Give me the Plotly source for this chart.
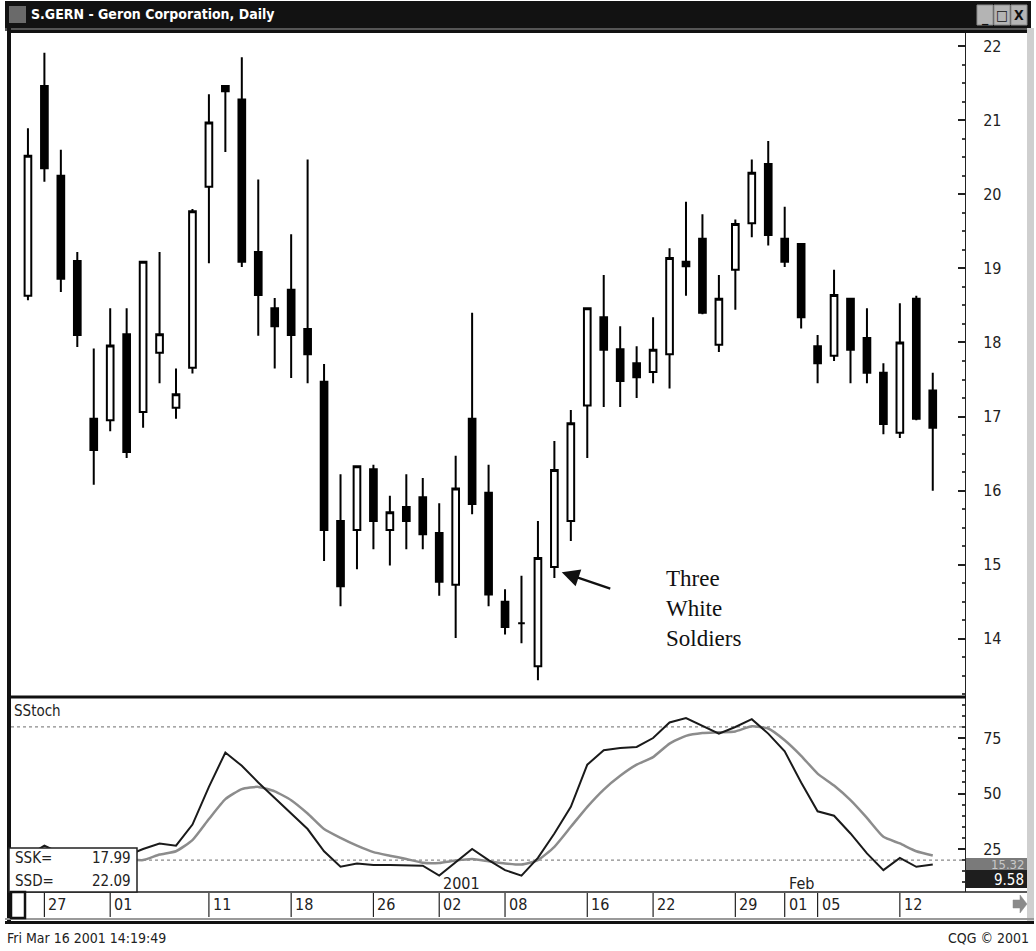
import plotly.graph_objects as go

W, H = 1036, 951
def PX(px):
    return px / W
def PY(py):
    return 1 - py / H

# ---------------- data ----------------
dates = [
    "2000-11-24", "2000-11-27", "2000-11-28", "2000-11-29", "2000-11-30",
    "2000-12-01", "2000-12-04", "2000-12-05", "2000-12-06", "2000-12-07", "2000-12-08",
    "2000-12-11", "2000-12-12", "2000-12-13", "2000-12-14", "2000-12-15",
    "2000-12-18", "2000-12-19", "2000-12-20", "2000-12-21", "2000-12-22",
    "2000-12-26", "2000-12-27", "2000-12-28", "2000-12-29",
    "2001-01-02", "2001-01-03", "2001-01-04", "2001-01-05",
    "2001-01-08", "2001-01-09", "2001-01-10", "2001-01-11", "2001-01-12",
    "2001-01-16", "2001-01-17", "2001-01-18", "2001-01-19",
    "2001-01-22", "2001-01-23", "2001-01-24", "2001-01-25", "2001-01-26",
    "2001-01-29", "2001-01-30", "2001-01-31", "2001-02-01", "2001-02-02",
    "2001-02-05", "2001-02-06", "2001-02-07", "2001-02-08", "2001-02-09",
    "2001-02-12", "2001-02-13", "2001-02-14",
]
opens = [18.63, 21.46, 20.25, 19.10, 16.97, 16.95, 18.11, 17.06, 17.86, 17.12,
         17.66, 20.10, 21.46, 21.28, 19.22, 18.46, 18.71, 18.18, 17.47, 15.59,
         15.47, 16.29, 15.47, 15.78, 15.91, 15.43, 14.73, 16.97, 15.97, 14.50,
         14.21, 13.63, 14.97, 15.59, 17.15, 18.34, 17.91, 17.72, 17.60, 17.84,
         19.09, 19.40, 17.97, 18.98, 19.61, 20.41, 19.40, 19.33, 17.95, 17.82,
         18.59, 18.06, 17.59, 16.78, 18.59, 17.35]
highs = [20.89, 21.91, 20.60, 19.22, 17.92, 18.46, 18.46, 19.09, 19.22, 17.65,
         19.80, 21.35, 21.46, 21.85, 20.20, 18.60, 19.46, 20.47, 17.71, 16.22,
         16.33, 16.35, 15.93, 16.22, 16.17, 15.83, 16.47, 18.40, 16.35, 14.67,
         14.85, 15.59, 16.67, 17.09, 18.46, 18.91, 18.22, 17.95, 18.34, 19.27,
         19.90, 19.73, 18.91, 19.66, 20.47, 20.72, 19.83, 19.33, 18.10, 18.98,
         18.59, 18.46, 17.72, 18.53, 18.63, 17.59]
lows = [18.57, 20.17, 18.68, 17.94, 16.08, 16.80, 16.44, 16.85, 17.45, 16.97,
        17.58, 19.07, 20.57, 19.02, 18.09, 17.65, 17.52, 17.45, 15.05, 14.44,
        14.94, 15.21, 14.99, 15.21, 15.21, 14.58, 14.01, 15.68, 14.44, 14.06,
        13.94, 13.44, 14.82, 15.32, 16.44, 17.13, 17.13, 17.25, 17.45, 17.38,
        18.63, 18.38, 17.87, 18.44, 19.42, 19.31, 19.02, 18.19, 17.45, 17.75,
        17.45, 17.45, 16.76, 16.71, 16.95, 16.00]
closes = [20.52, 20.35, 18.86, 18.10, 16.55, 17.96, 16.52, 19.09, 18.11, 17.30,
          19.77, 20.97, 21.39, 19.09, 18.64, 18.22, 18.10, 17.84, 15.47, 14.71,
          16.33, 15.59, 15.71, 15.59, 15.41, 14.77, 16.03, 15.82, 14.60, 14.16,
          14.21, 15.09, 16.28, 16.91, 18.46, 17.90, 17.48, 17.53, 17.90, 19.14,
          19.03, 18.40, 18.59, 19.60, 20.29, 19.45, 19.09, 18.34, 17.72, 18.64,
          17.90, 17.59, 16.90, 18.00, 16.97, 16.85]

ssk = [22, 26.5, 23, 22, 21, 22, 22, 25, 27.5, 26.5,
       36, 53, 68.5, 62.5, 55, 48, 41, 34, 24, 17,
       18.5, 17.8, 17.8, 17.8, 17.5, 13, 19, 25, 20, 15.5,
       13, 21, 32, 44, 63, 69.5, 70.5, 71, 75, 82,
       84, 80.5, 77, 80, 83.5, 77, 69, 55, 42, 40,
       32, 23, 15.5, 21, 17, 17.99]
ssd = [21, 22, 22.5, 22, 21.5, 21, 20.5, 20, 22.5, 24,
       29, 38.5, 47.5, 52, 53, 51, 47, 41, 34, 30,
       26.5, 23.6, 22, 20.5, 18.8, 18.7, 19.8, 20.5, 19.5, 18.5,
       18, 20, 26, 35, 44, 51.8, 58, 63, 66.4, 72.5,
       76, 77.3, 77.6, 78, 80.3, 79.3, 74, 67, 59, 53.6,
       47, 39, 30.5, 27.5, 24, 22.09]

price_ticks = [14, 15, 16, 17, 18, 19, 20, 21, 22]
stoch_ticks = [25, 50, 75]
stoch_levels = [20, 80]
date_tick_dates = ["2000-11-27", "2000-12-01", "2000-12-11", "2000-12-18", "2000-12-26",
                   "2001-01-02", "2001-01-08", "2001-01-16", "2001-01-22", "2001-01-29",
                   "2001-02-01", "2001-02-05", "2001-02-12"]
date_tick_labels = ["27", "01", "11", "18", "26", "02", "08", "16", "22", "29", "01", "05", "12"]
period_labels = [("2001-01-02", "2001"), ("2001-02-01", "Feb")]

title_text = "S.GERN - Geron Corporation, Daily"
ssk_last = "17.99"
ssd_last = "22.09"

idx = list(range(len(dates)))
NARROW = "Liberation Sans Narrow, Arial Narrow, DejaVu Sans Condensed, Liberation Sans, sans-serif"

fig = go.Figure()
fig.add_trace(go.Candlestick(
    x=idx, open=opens, high=highs, low=lows, close=closes,
    xaxis="x", yaxis="y",
    increasing=dict(line=dict(color="black", width=2), fillcolor="white"),
    decreasing=dict(line=dict(color="black", width=2), fillcolor="black"),
    whiskerwidth=0, showlegend=False, hoverinfo="skip"))

fig.add_trace(go.Scatter(x=idx, y=ssd, mode="lines", xaxis="x2", yaxis="y2",
                         line=dict(color="#8c8c8c", width=2.5, shape="spline", smoothing=0.5),
                         showlegend=False, hoverinfo="skip"))
fig.add_trace(go.Scatter(x=idx, y=ssk, mode="lines", xaxis="x2", yaxis="y2",
                         line=dict(color="#1a1a1a", width=2), showlegend=False, hoverinfo="skip"))

xr = [-1.03, 56.96]
fig.update_layout(
    width=W, height=H, margin=dict(l=0, r=0, t=0, b=0),
    paper_bgcolor="white", plot_bgcolor="white",
    boxgap=0.42,
    xaxis=dict(domain=[PX(11), PX(965)], range=xr, visible=False,
               rangeslider=dict(visible=False), anchor="y"),
    yaxis=dict(domain=[PY(697), PY(32)], range=[13.215, 22.19], side="right", anchor="x",
               tickvals=price_ticks, ticks="inside", ticklen=7, tickwidth=1.5, tickcolor="#222",
               minor=dict(ticks="inside", ticklen=3, dtick=0.25, tick0=0, tickcolor="#444"),
               showline=True, linecolor="#222", linewidth=1, showgrid=False, zeroline=False,
               ticklabelstandoff=14,
               tickfont=dict(family=NARROW, size=16, color="#222")),
    xaxis2=dict(domain=[PX(11), PX(965)], range=xr, visible=False, anchor="y2"),
    yaxis2=dict(domain=[PY(892), PY(697)], range=[5.63, 93.5], side="right", anchor="x2",
                tickvals=stoch_ticks, ticks="inside", ticklen=7, tickwidth=1.5, tickcolor="#222",
                minor=dict(ticks="inside", ticklen=3, dtick=5, tick0=0, tickcolor="#444"),
                showline=True, linecolor="#222", linewidth=1, showgrid=False, zeroline=False,
                ticklabelstandoff=14,
                tickfont=dict(family=NARROW, size=16, color="#222")),
)

shapes = []
def prect(x0, y0, x1, y1, fill, line_color=None, lw=0, layer="above"):
    shapes.append(dict(type="rect", xref="paper", yref="paper",
                       x0=PX(x0), x1=PX(x1), y0=PY(y1), y1=PY(y0),
                       fillcolor=fill, line=dict(color=line_color or fill, width=lw), layer=layer))
def pline(x0, y0, x1, y1, color, lw, dash="solid"):
    shapes.append(dict(type="line", xref="paper", yref="paper",
                       x0=PX(x0), x1=PX(x1), y0=PY(y0), y1=PY(y1),
                       line=dict(color=color, width=lw, dash=dash), layer="above"))
def ppath(points, fill):
    d = "M " + " L ".join(f"{PX(x):.5f},{PY(y):.5f}" for x, y in points) + " Z"
    shapes.append(dict(type="path", xref="paper", yref="paper", path=d,
                       fillcolor=fill, line=dict(color=fill, width=0.5), layer="above"))

# title bar
prect(5, 1, 1031, 28, "#121212")
prect(9, 6, 26, 23, "#6a6a6a")
for bx in (977, 994, 1011):
    prect(bx, 5, bx + 16, 25, "#b4b4b4", "#8a8a8a", 1)
# window frame
prect(5, 28, 1031, 31, "#555555")
pline(9, 28, 9, 922, "#111", 4)
prect(1027, 28, 1034, 922, "#cfcfcf")
pline(5, 919, 1034, 919, "#9a9a9a", 2)
pline(5, 922.5, 1034, 922.5, "#111", 3)
pline(9, 31.5, 1027, 31.5, "#111", 3)
# panel separators
pline(9, 697, 966, 697, "#111", 3)
pline(9, 892, 1027, 892, "#222", 1.5)

# stochastic reference levels
for lv in stoch_levels:
    shapes.append(dict(type="line", xref="x2 domain", yref="y2", x0=0, x1=1, y0=lv, y1=lv,
                       line=dict(color="#8a8a8a", width=1.2, dash="dot"), layer="below"))

# date strip ticks
for d in date_tick_dates:
    k = dates.index(d)
    shapes.append(dict(type="line", xref="x2", yref="paper", x0=k, x1=k,
                       y0=PY(917), y1=PY(893), line=dict(color="#222", width=1.2), layer="above"))

# SSK / SSD box
prect(9, 848, 137, 892, "white", "#222", 1.5)
# scroll box bottom-left
prect(11, 892, 25, 918, "white", "#111", 2.5)
# last value flags
prect(966, 858, 1027, 870, "#7a7a7a")
prect(966, 870, 1027, 888, "#1e1e1e")
# scroll arrow (right)
ppath([(1013, 900), (1020, 900), (1020, 895), (1027, 904), (1020, 913), (1020, 908), (1013, 908)],
      "#8a8a8a")

fig.update_layout(shapes=shapes)

ann = []
def ptext(x, y, text, size=15, color="#222", xanchor="left", yanchor="middle",
          family=NARROW, bold=False):
    ann.append(dict(xref="paper", yref="paper", x=PX(x), y=PY(y), text=text,
                    showarrow=False, xanchor=xanchor, yanchor=yanchor,
                    font=dict(family=family, size=size, color=color,
                              weight="bold" if bold else "normal")))

ptext(29, 14, title_text, size=14, color="white", bold=True)
ptext(985, 17, "_", size=14, color="#111", xanchor="center", bold=True)
ptext(1002, 15, "□", size=14, color="#111", xanchor="center", bold=True)
ptext(1019, 15, "X", size=14, color="#111", xanchor="center", bold=True)
ptext(12, 711, "SStoch", size=15, color="#222")
ptext(13, 858, "SSK=", size=15)
ptext(133, 858, ssk_last, size=15, xanchor="right")
ptext(13, 881, "SSD=", size=15)
ptext(133, 881, ssd_last, size=15, xanchor="right")
ptext(1026, 864, "15.32", size=13, color="#c8c8c8", xanchor="right")
ptext(1026, 880, "9.58", size=15, color="white", xanchor="right")
ptext(5, 938, "Fri Mar 16 2001 14:19:49", size=14, color="#222")
ptext(1031, 938, "CQG © 2001", size=14, color="#222", xanchor="right")

for d, lab in zip(date_tick_dates, date_tick_labels):
    ann.append(dict(xref="x2", yref="paper", x=dates.index(d), y=PY(904), text=lab,
                    showarrow=False, xanchor="left", yanchor="middle", xshift=2,
                    font=dict(family=NARROW, size=16, color="#222")))
for d, lab in period_labels:
    ann.append(dict(xref="x2", yref="paper", x=dates.index(d), y=PY(883), text=lab,
                    showarrow=False, xanchor="left", yanchor="middle", xshift=2,
                    font=dict(family=NARROW, size=16, color="#222")))

# Three White Soldiers annotation
ann.append(dict(xref="x", yref="y", x=32.45, y=14.9, ax=50, ay=17, axref="pixel", ayref="pixel",
                showarrow=True, arrowhead=2, arrowsize=1.6, arrowwidth=2.2, arrowcolor="#111",
                text=""))
ann.append(dict(xref="paper", yref="paper", x=PX(664), y=PY(608), text="Three<br>White<br>Soldiers",
                showarrow=False, xanchor="left", yanchor="middle", align="left",
                font=dict(family="Liberation Serif, Times New Roman, serif", size=23, color="#111")))

fig.update_layout(annotations=ann)
fig.write_html("out.html", config={"displayModeBar": False},
               post_script="document.body.style.margin='0px';document.body.style.overflow='hidden';")
